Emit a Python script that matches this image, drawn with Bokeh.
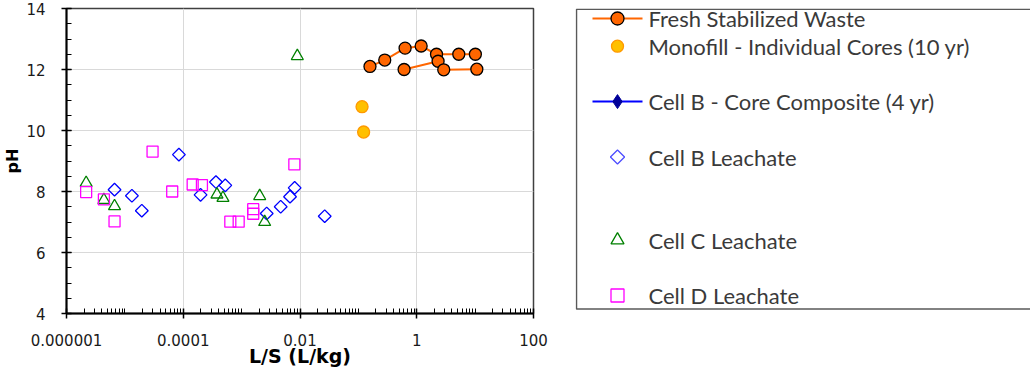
import math
from bokeh.plotting import figure
from bokeh.layouts import row
from bokeh.models import FixedTicker, SingleIntervalTicker, CustomJSTickFormatter
from bokeh.core.properties import value
from bokeh.embed import file_html
from bokeh.resources import INLINE

# ---------------- data ----------------
fresh_a_x = [0.158, 0.283, 0.631, 1.19, 2.18, 5.25, 10.1]
fresh_a_y = [12.1, 12.31, 12.7, 12.77, 12.5, 12.5, 12.5]
fresh_b_x = [0.607, 2.32, 2.9, 10.7]
fresh_b_y = [12.0, 12.27, 11.99, 12.01]

mono_x = [0.1156, 0.123]
mono_y = [10.78, 9.95]

core_x = []   # no points visible in the chart (legend entry only)
core_y = []

cellb_x = [6.65e-6, 1.32e-5, 1.95e-5, 8.43e-5, 1.98e-4, 3.63e-4, 5.25e-4,
           2.69e-3, 4.67e-3, 6.75e-3, 8.1e-3, 0.0265]
cellb_y = [8.06, 7.86, 7.37, 9.21, 7.89, 8.31, 8.2, 7.28, 7.5, 7.83, 8.12, 7.19]

cellc_x = [2.17e-6, 4.37e-6, 6.65e-6, 3.78e-4, 4.79e-4, 2.04e-3, 2.48e-3, 9.0e-3]
cellc_y = [8.28, 7.72, 7.52, 7.9, 7.79, 7.85, 7.0, 12.44]

celld_x = [2.17e-6, 4.37e-6, 6.65e-6, 2.98e-5, 6.47e-5, 1.45e-4, 2.09e-4,
           6.4e-4, 8.9e-4, 1.58e-3, 1.58e-3, 8.0e-3]
celld_y = [7.98, 7.74, 7.02, 9.31, 8.0, 8.23, 8.21, 7.01, 7.01, 7.42, 7.27, 8.89]

x_ticks = [1e-6, 1e-4, 1e-2, 1, 100]
x_tick_labels = ["0.000001", "0.0001", "0.01", "1", "100"]

series_labels = ["Fresh Stabilized Waste", "Monofill - Individual Cores (10 yr)",
                 "Cell B - Core Composite (4 yr)", "Cell B Leachate",
                 "Cell C Leachate", "Cell D Leachate"]

# ---------------- styles ----------------
FRESH_LINE = dict(line_color="#ff6600", line_width=2)
FRESH_MARK = dict(marker="circle", size=12, fill_color="#ff6600",
                  line_color="black", line_width=1.3)
MONO_MARK = dict(marker="circle", size=12, fill_color="#ffc000",
                 line_color="#ff9900", line_width=1.3)
CORE_LINE = dict(line_color="#0000ff", line_width=2)
CORE_MARK = dict(marker="diamond", size=14, fill_color="#000099",
                 line_color="#000099")
CELLB_MARK = dict(marker="square", angle=math.pi / 4, size=9, fill_color=None,
                  line_color="#0000ff", line_width=1.3)
CELLC_MARK = dict(marker="triangle", size=12, fill_color=None,
                  line_color="#008000", line_width=1.3)
CELLD_MARK = dict(marker="square", size=11, fill_color=None,
                  line_color="#ff00ff", line_width=1.3)

# ---------------- main chart ----------------
TOP, FH, BOT = 8, 305, 57
p = figure(frame_width=467, frame_height=FH, x_axis_type="log",
           x_range=(1e-6, 100), y_range=(4, 14),
           output_backend="svg", toolbar_location=None,
           min_border_left=62, min_border_top=TOP, min_border_bottom=BOT,
           min_border_right=42)
p.background_fill_color = "white"
p.border_fill_color = "white"
p.outline_line_color = "#404040"
p.outline_line_width = 1.5

minor = []
for e in range(-6, 2):
    for k in range(1, 10):
        v = k * 10.0 ** e
        if v not in x_ticks:
            minor.append(v)
p.xaxis.ticker = FixedTicker(ticks=x_ticks, minor_ticks=minor)
p.xaxis.formatter = CustomJSTickFormatter(
    args=dict(vals=x_ticks, labs=x_tick_labels),
    code="""
    let best = 0, bd = 1e9;
    for (let i = 0; i < vals.length; i++) {
        const d = Math.abs(Math.log10(vals[i]) - Math.log10(tick));
        if (d < bd) { bd = d; best = i; }
    }
    return labs[best];
    """)
p.yaxis.ticker = SingleIntervalTicker(interval=2, num_minor_ticks=4)

for ax in (p.xaxis, p.yaxis):
    ax.axis_line_color = "black"
    ax.axis_line_width = 2
    ax.major_tick_line_color = "black"
    ax.major_tick_line_width = 1.5
    ax.minor_tick_line_color = "black"
    ax.minor_tick_line_width = 1
    ax.major_tick_in = 5
    ax.major_tick_out = 5
    ax.minor_tick_in = 5
    ax.minor_tick_out = 0
    ax.major_label_text_font = "DejaVu Sans"
    ax.major_label_text_font_size = "15px"
    ax.major_label_text_color = "#1a1a1a"
    ax.axis_label_text_font = "DejaVu Sans"
    ax.axis_label_text_font_style = "bold"
    ax.axis_label_text_color = "black"

p.xaxis.axis_label = "L/S (L/kg)"
p.xaxis.axis_label_text_font_size = "19px"
p.xaxis.major_label_standoff = 15
p.xaxis.axis_label_standoff = -4
p.yaxis.axis_label = "pH"
p.yaxis.axis_label_text_font_size = "16px"
p.yaxis.major_label_standoff = 16
p.yaxis.axis_label_standoff = 1

p.xgrid.grid_line_color = "#d9d9d9"
p.ygrid.grid_line_color = "#d9d9d9"
p.xgrid.grid_line_width = 1
p.ygrid.grid_line_width = 1

p.scatter(cellb_x, cellb_y, **CELLB_MARK)
p.scatter(cellc_x, cellc_y, **CELLC_MARK)
p.scatter(celld_x, celld_y, **CELLD_MARK)
p.scatter(mono_x, mono_y, **MONO_MARK)
p.line(fresh_a_x, fresh_a_y, **FRESH_LINE)
p.line(fresh_b_x, fresh_b_y, **FRESH_LINE)
p.scatter(fresh_a_x + fresh_b_x, fresh_a_y + fresh_b_y, **FRESH_MARK)
p.line(core_x, core_y, **CORE_LINE)
p.scatter(core_x, core_y, **CORE_MARK)

# ---------------- legend panel (data y == canvas pixel row) ----------------
QW = 455
q = figure(frame_width=QW, frame_height=FH, x_range=(0, QW),
           y_range=(TOP + FH, TOP),
           x_axis_location=None, y_axis_location=None,
           output_backend="svg", toolbar_location=None,
           min_border_left=0, min_border_right=0,
           min_border_top=TOP, min_border_bottom=BOT,
           outline_line_color=None)
q.xgrid.visible = False
q.ygrid.visible = False

BOX_TOP, BOX_BOTTOM, BOX_LEFT = TOP + 0.75, 308.5, 1
ROW0, PITCH = 18, 27.7
slots = [0, 1, 3, 5, 8, 10]             # legend rows used by the six series
ys = [ROW0 + PITCH * s for s in slots]
GX0, GX1, TX = 17, 67, 73               # glyph line span and text start
gx = (GX0 + GX1) / 2

q.quad(left=[BOX_LEFT], right=[QW + 2], top=[BOX_TOP], bottom=[BOX_BOTTOM],
       fill_color="white", line_color="#595959", line_width=1.5)

# glyph samples
q.segment(x0=[GX0], y0=[ys[0]], x1=[GX1], y1=[ys[0]], **FRESH_LINE)
q.scatter([gx], [ys[0]], **dict(FRESH_MARK, size=13))
q.scatter([gx], [ys[1]], **MONO_MARK)
q.segment(x0=[GX0], y0=[ys[2]], x1=[GX1], y1=[ys[2]], **CORE_LINE)
q.scatter([gx], [ys[2]], **CORE_MARK)
q.scatter([gx], [ys[3]], **dict(CELLB_MARK, size=10, line_color="#4d4dff"))
q.scatter([gx], [ys[4]], **dict(CELLC_MARK, size=13))
q.scatter([gx], [ys[5]], **dict(CELLD_MARK, size=13))

q.text(x=[TX] * len(series_labels), y=ys, text=series_labels,
       text_font=value("Lato"), text_font_size="22px", text_color="#3a3a3a",
       text_baseline="middle", text_align="left")

layout = row(p, q, spacing=0)
open("out.html", "w").write(file_html(layout, INLINE))
